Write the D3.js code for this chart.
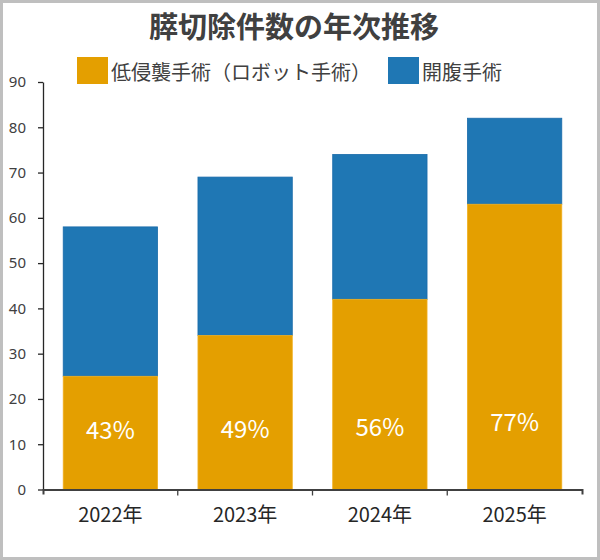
<!DOCTYPE html>
<html>
<head>
<meta charset="utf-8">
<script src="https://cdn.jsdelivr.net/npm/d3@7"></script>
<style>
body { margin: 0; background: #fff; }
text { font-family: "Noto Sans CJK JP", "Noto Sans", sans-serif; }
</style>
</head>
<body>
<div id="viz"></div>
<script>
// data
var years = ["2022年", "2023年", "2024年", "2025年"];
var robotCases = [25, 34, 42, 63];      // 低侵襲手術（ロボット手術）
var openCases = [33, 35, 32, 19];       // 開腹手術
var shares = ["43%", "49%", "56%", "77%"];
var shareAt = [13.4, 13.7, 14.1, 15.3];   // where the % label sits, in axis units
var yTicks = [0, 10, 20, 30, 40, 50, 60, 70, 80, 90];
var seriesNames = ["低侵襲手術（ロボット手術）", "開腹手術"];
var seriesColors = ["#E49F00", "#1F77B4"];

var width = 600;
var height = 560;
var plotLeft = 43;
var plotRight = 582;
var plotTop = 82;
var plotBottom = 489.5;

var svg = d3.select("#viz").append("svg")
	.attr("width", width)
	.attr("height", height);

svg.append("rect")
	.attr("x", 1.5).attr("y", 1.5)
	.attr("width", width - 3).attr("height", height - 3)
	.attr("fill", "#fff")
	.attr("stroke", "#BFBFBF")
	.attr("stroke-width", 3);

var x = d3.scaleBand()
	.domain(years)
	.range([plotLeft, plotRight])
	.paddingInner(0.3)
	.paddingOuter(0.15);

var y = d3.scaleLinear()
	.domain([0, 90])
	.range([plotBottom, plotTop]);

// title
svg.append("text")
	.attr("x", 294)
	.attr("y", 25)
	.attr("dominant-baseline", "central")
	.attr("text-anchor", "middle")
	.style("font-size", "29px")
	.style("font-weight", "bold")
	.attr("fill", "#404040")
	.text("膵切除件数の年次推移");

// legend
var legX = [77, 388];
var legend = svg.append("g");
legend.selectAll("rect").data(seriesColors).enter().append("rect")
	.attr("x", function(d, i) { return legX[i]; })
	.attr("y", 57)
	.attr("width", 31)
	.attr("height", 27)
	.attr("fill", function(d) { return d; });
legend.selectAll("text").data(seriesNames).enter().append("text")
	.attr("x", function(d, i) { return legX[i] + 34; })
	.attr("y", 71)
	.attr("dominant-baseline", "central")
	.style("font-size", "20px")
	.attr("fill", "#404040")
	.text(function(d) { return d; });

// bars
var stacked = years.map(function(d, i) { return {year: d, robot: robotCases[i], open: openCases[i]}; });

svg.append("g").selectAll("rect").data(stacked).enter().append("rect")
	.attr("x", function(d) { return x(d.year); })
	.attr("y", function(d) { return y(d.robot + d.open); })
	.attr("width", x.bandwidth())
	.attr("height", function(d) { return y(d.robot) - y(d.robot + d.open); })
	.attr("fill", seriesColors[1])
	.attr("stroke", "#1A6BAA")
	.attr("stroke-width", 0.8);

svg.append("g").selectAll("rect").data(stacked).enter().append("rect")
	.attr("x", function(d) { return x(d.year); })
	.attr("y", function(d) { return y(d.robot); })
	.attr("width", x.bandwidth())
	.attr("height", function(d) { return y(0) - y(d.robot); })
	.attr("fill", seriesColors[0])
	.attr("stroke", "#F0B020")
	.attr("stroke-width", 0.8);

// share labels
svg.append("g").selectAll("text").data(shares).enter().append("text")
	.attr("x", function(d, i) { return x(years[i]) + x.bandwidth() / 2; })
	.attr("y", function(d, i) { return y(shareAt[i]); })
	.attr("dominant-baseline", "central")
	.attr("text-anchor", "middle")
	.style("font-size", "24px")
	.attr("fill", "#fff")
	.text(function(d) { return d; });

// y axis
var yAxis = svg.append("g")
	.attr("transform", "translate(" + plotLeft + ",0)")
	.call(d3.axisLeft(y).tickValues(yTicks).tickSize(5).tickSizeOuter(0).tickPadding(12));
yAxis.select(".domain").attr("stroke", "#262626").attr("stroke-width", 1.3);
yAxis.selectAll(".tick line").attr("stroke", "#262626").attr("stroke-width", 1.3);
yAxis.selectAll("text")
	.style("font-size", "15px")
	.style("font-family", "'Noto Sans', sans-serif")
	.attr("fill", "#404040");

// x axis: line with ticks at category boundaries
var xAxis = svg.append("g")
	.attr("transform", "translate(0," + plotBottom + ")")
	.call(d3.axisBottom(x).tickSize(0).tickSizeOuter(5).tickPadding(18));
xAxis.select(".domain").attr("stroke", "#404040").attr("stroke-width", 2);
xAxis.selectAll("text")
	.style("font-size", "20px")
	.attr("fill", "#262626");

xAxis.selectAll("line.sep").data(years.slice(1)).enter().append("line")
	.attr("class", "sep")
	.attr("x1", function(d) { return x(d) - x.step() * x.paddingInner() / 2; })
	.attr("x2", function(d) { return x(d) - x.step() * x.paddingInner() / 2; })
	.attr("y1", 0)
	.attr("y2", 6)
	.attr("stroke", "#404040")
	.attr("stroke-width", 1.3);
</script>
</body>
</html>
